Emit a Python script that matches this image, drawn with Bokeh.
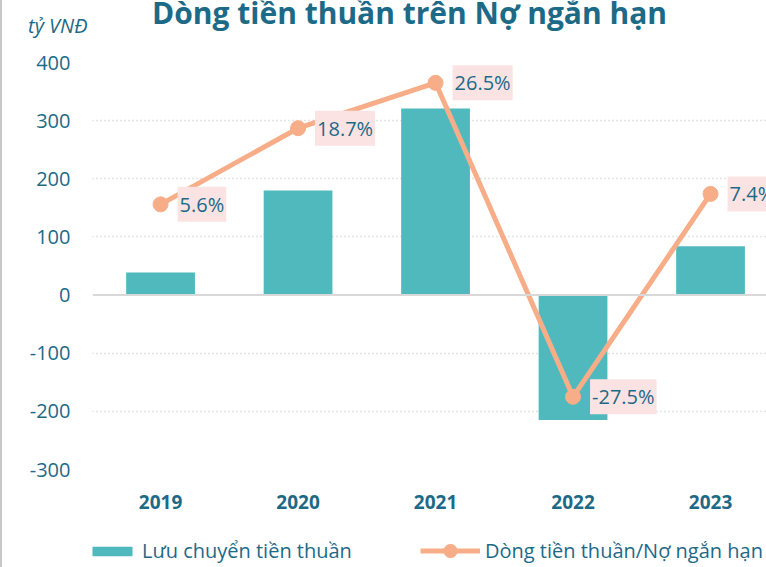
from bokeh.plotting import figure
from bokeh.layouts import column
from bokeh.models import (Range1d, FixedTicker, Span, Legend, LegendItem,
                          ColumnDataSource, Label)
from bokeh.core.properties import value
from bokeh.embed import file_html
from bokeh.resources import INLINE

years = ["2019", "2020", "2021", "2022", "2023"]
cash_flow = [39, 180, 321, -215, 84]          # tỷ VNĐ
ratio_pct = [5.6, 18.7, 26.5, -27.5, 7.4]     # %
ratio_labels = ["5.6%", "18.7%", "26.5%", "-27.5%", "7.4%"]
y_ticks = [-300, -200, -100, 0, 100, 200, 300, 400]
title_text = "Dòng tiền thuần trên Nợ ngắn hạn"
unit_text = "tỷ VNĐ"
series_names = ["Lưu chuyển tiền thuần", "Dòng tiền thuần/Nợ ngắn hạn"]

TEAL_TXT = "#1d6a87"
BAR = "#4fb9be"
LINE = "#f7ae88"
FONT = "Open Sans"
BORDER = 2
W = 766 - BORDER
LEFT = 92 - BORDER

idx = list(range(len(years)))
src = ColumnDataSource(dict(x=idx, cf=cash_flow, pct=ratio_pct, lab=ratio_labels))


def plain_axis(ax, size, standoff, style="normal"):
    ax.axis_line_color = None
    ax.major_tick_line_color = None
    ax.minor_tick_line_color = None
    ax.major_tick_out = 0
    ax.major_tick_in = 0
    ax.major_label_standoff = standoff
    ax.major_label_text_font = FONT
    ax.major_label_text_font_size = size
    ax.major_label_text_font_style = style
    ax.major_label_text_color = TEAL_TXT


# ---------- header (title + unit) ----------
HEAD_H = 50
head = figure(width=W, height=HEAD_H, output_backend="svg", toolbar_location=None,
              x_range=Range1d(0, 1), y_range=Range1d(0, HEAD_H),
              x_axis_location=None, min_border_left=LEFT, min_border_right=0,
              min_border_top=0, min_border_bottom=0)
head.grid.visible = False
head.outline_line_color = None
head.yaxis.ticker = FixedTicker(ticks=[25])
head.yaxis.major_label_overrides = {25: unit_text}
plain_axis(head.yaxis, "20px", 5, "italic")
head.add_layout(Label(x=409 - 92, y=HEAD_H - 21 + 9, x_units="screen", y_units="screen",
                      text=title_text, text_align="center", text_baseline="alphabetic",
                      text_font=FONT, text_font_size="30px", text_font_style="bold",
                      text_color=TEAL_TXT))

# ---------- main chart ----------
MAIN_H = 480
p = figure(width=W, height=MAIN_H, output_backend="svg", toolbar_location=None,
           x_range=Range1d(-0.495, 4.407), y_range=Range1d(-300, 400),
           min_border_left=LEFT, min_border_right=0, min_border_top=62 - HEAD_H,
           min_border_bottom=MAIN_H - (469 - HEAD_H))
p.extra_y_ranges = {"pct": Range1d(-40, 30)}
p.outline_line_color = None

p.xgrid.visible = False
p.ygrid.ticker = FixedTicker(ticks=[t for t in y_ticks if t != 0])
p.ygrid.grid_line_color = "#c9c9c9"
p.ygrid.grid_line_dash = "1 3"
p.ygrid.grid_line_width = 1.5
p.add_layout(Span(location=0, dimension="width", line_color="#d9d9d9", line_width=2))

p.yaxis.ticker = FixedTicker(ticks=y_ticks)
p.yaxis.major_label_overrides = {t: str(t) for t in y_ticks}
plain_axis(p.yaxis, "20px", 22)

p.xaxis.ticker = FixedTicker(ticks=idx)
p.xaxis.major_label_overrides = {i: y for i, y in zip(idx, years)}
plain_axis(p.xaxis, "19px", 25, "bold")

p.vbar(x="x", top="cf", width=0.5, source=src, fill_color=BAR, line_color=None)
p.line(x="x", y="pct", source=src, y_range_name="pct", line_color=LINE, line_width=5)
p.scatter(x="x", y="pct", source=src, y_range_name="pct", size=15,
          fill_color=LINE, line_color=LINE)
p.text(x="x", y="pct", text="lab", source=src, y_range_name="pct",
       x_offset=17, text_align="left", text_baseline="middle",
       text_font=value(FONT), text_font_size="20px", text_color=TEAL_TXT,
       background_fill_color="#fbe3e3", padding=dict(left=2, right=2, top=4, bottom=4))

# ---------- footer with legend ----------
FOOT_H = 567 - HEAD_H - MAIN_H
foot = figure(width=W, height=FOOT_H, output_backend="svg", toolbar_location=None,
              x_range=Range1d(-0.495, 4.407), y_range=Range1d(-300, 400),
              x_axis_location=None, y_axis_location=None,
              min_border_left=LEFT, min_border_right=0, min_border_top=0, min_border_bottom=0)
foot.grid.visible = False
foot.outline_line_color = None
lb = foot.vbar(x="x", top="cf", width=0.5, source=src, fill_color=BAR, line_color=None,
               visible=False)
ll = foot.line(x="x", y="pct", source=src, line_color=LINE, line_width=5, visible=False)
ls = foot.scatter(x="x", y="pct", source=src, size=15, fill_color=LINE, line_color=LINE,
                  visible=False)
common = dict(orientation="horizontal", label_text_font=FONT, label_text_font_size="20px",
              label_text_color=TEAL_TXT, label_standoff=5, padding=0, margin=0,
              border_line_color=None, background_fill_alpha=0)
leg1 = Legend(items=[LegendItem(label=series_names[0], renderers=[lb])],
              location=(-5, 3), glyph_width=50, glyph_height=12, **common)
leg2 = Legend(items=[LegendItem(label=series_names[1], renderers=[ll, ls])],
              location=(328, 0), glyph_width=60, glyph_height=33, **common)
foot.add_layout(leg1)
foot.add_layout(leg2)

layout = column(head, p, foot, spacing=0,
                styles={"border-left": f"{BORDER}px solid #c8c8c8"})
open("out.html", "w").write(file_html(layout, INLINE))
